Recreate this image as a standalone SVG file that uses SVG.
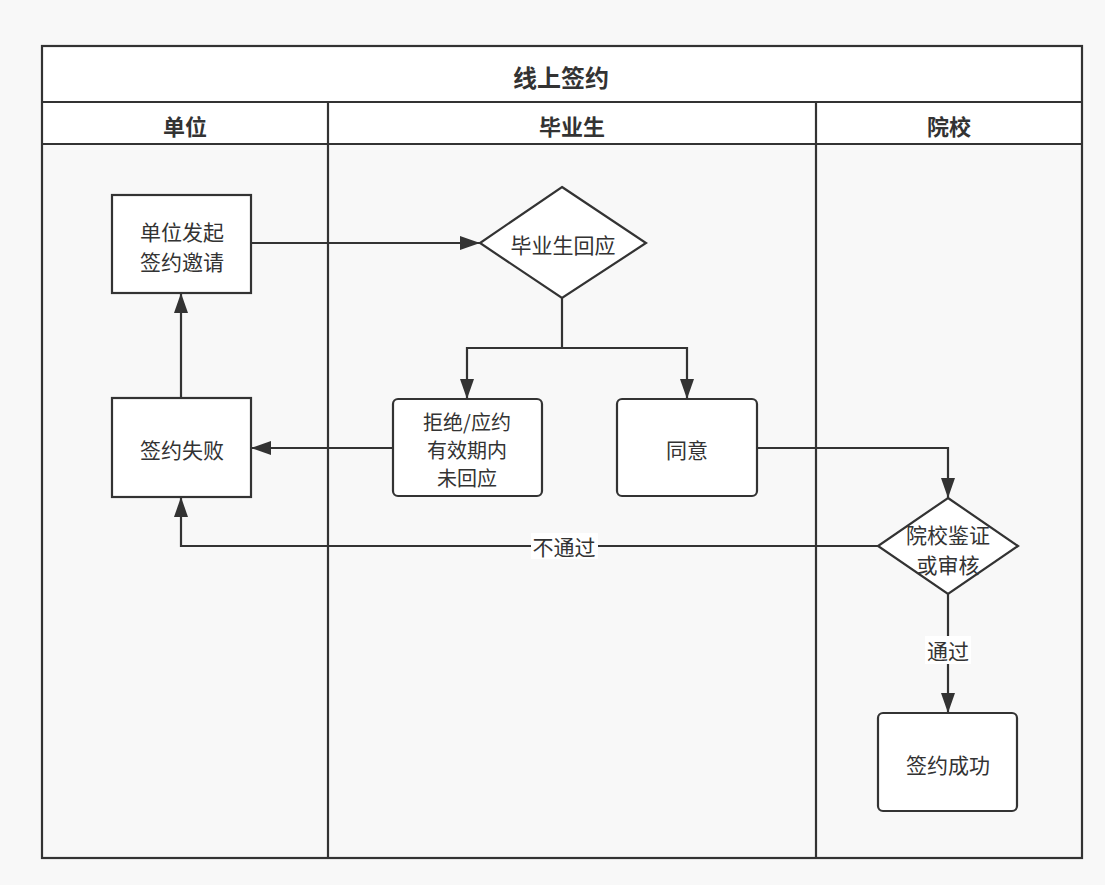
<svg xmlns="http://www.w3.org/2000/svg" width="1105" height="885" viewBox="0 0 1105 885">
<defs>
<style>
text{font-family:"Noto Sans CJK SC","Noto Sans",sans-serif;fill:#333;text-anchor:middle;dominant-baseline:central}
.n{font-size:21px}
.s{font-size:20px}
.h{font-size:22px;font-weight:bold}
.t{font-size:24px;font-weight:bold}
.shape{fill:#fff;stroke:#333;stroke-width:2.2}
.pool{fill:none;stroke:#333;stroke-width:2.2}
.c{fill:none;stroke:#333;stroke-width:2.2}
.lbl{fill:#fff}
</style>
<marker id="arr" viewBox="0 0 20 14" refX="20" refY="7" markerWidth="20" markerHeight="14" markerUnits="userSpaceOnUse" orient="auto">
<path d="M0,0 L20,7 L0,14 Z" fill="#333"/>
</marker>
</defs>
<rect width="1105" height="885" fill="#f8f8f8"/>
<g id="pool">
<rect x="42" y="46" width="1040" height="56" fill="#fff"/>
<rect x="42" y="102" width="1040" height="42" fill="#fff"/>
<rect x="42" y="46" width="1040" height="812" class="pool"/>
<line x1="42" y1="102" x2="1082" y2="102" class="pool"/>
<line x1="42" y1="144" x2="1082" y2="144" class="pool"/>
<line x1="328" y1="102" x2="328" y2="858" class="pool"/>
<line x1="816" y1="102" x2="816" y2="858" class="pool"/>
<text x="561" y="76" class="t">线上签约</text>
<text x="185" y="125" class="h">单位</text>
<text x="572" y="125" class="h">毕业生</text>
<text x="949" y="125" class="h">院校</text>
</g>
<g id="connectors">
<path d="M250,243 H480" class="c" marker-end="url(#arr)"/>
<path d="M181,398 V293" class="c" marker-end="url(#arr)"/>
<path d="M562,298 V348 H467 V399" class="c" marker-end="url(#arr)"/>
<path d="M562,348 H687 V399" class="c" marker-end="url(#arr)"/>
<path d="M393,448 H251" class="c" marker-end="url(#arr)"/>
<path d="M757,448 H948 V498" class="c" marker-end="url(#arr)"/>
<path d="M878,546 H181 V497" class="c" marker-end="url(#arr)"/>
<path d="M948,594 V713" class="c" marker-end="url(#arr)"/>
<rect x="531" y="533" width="67" height="26" class="lbl"/>
<text x="564" y="546" class="n">不通过</text>
<rect x="925" y="636" width="46" height="28" class="lbl"/>
<text x="948" y="650" class="n">通过</text>
</g>
<g id="n_invite">
<rect x="112" y="195" width="139" height="98" class="shape"/>
<text x="182" y="231" class="n">单位发起</text>
<text x="182" y="261" class="n">签约邀请</text>
</g>
<g id="n_fail">
<rect x="112" y="398" width="139" height="99" class="shape"/>
<text x="182" y="449" class="n">签约失败</text>
</g>
<g id="n_respond">
<polygon points="562,187 646,243 562,298 480,243" class="shape"/>
<text x="563" y="244" class="n">毕业生回应</text>
</g>
<g id="n_reject">
<rect x="393" y="399" width="149" height="97" rx="5" class="shape"/>
<text x="467" y="421" class="s">拒绝/应约</text>
<text x="467" y="449" class="s">有效期内</text>
<text x="467" y="477" class="s">未回应</text>
</g>
<g id="n_agree">
<rect x="617" y="399" width="140" height="97" rx="5" class="shape"/>
<text x="687" y="449" class="n">同意</text>
</g>
<g id="n_verify">
<polygon points="948,498 1018,546 948,594 878,546" class="shape"/>
<text x="948" y="534" class="n">院校鉴证</text>
<text x="948" y="564" class="n">或审核</text>
</g>
<g id="n_success">
<rect x="878" y="713" width="139" height="98" rx="5" class="shape"/>
<text x="948" y="764" class="n">签约成功</text>
</g>
</svg>
